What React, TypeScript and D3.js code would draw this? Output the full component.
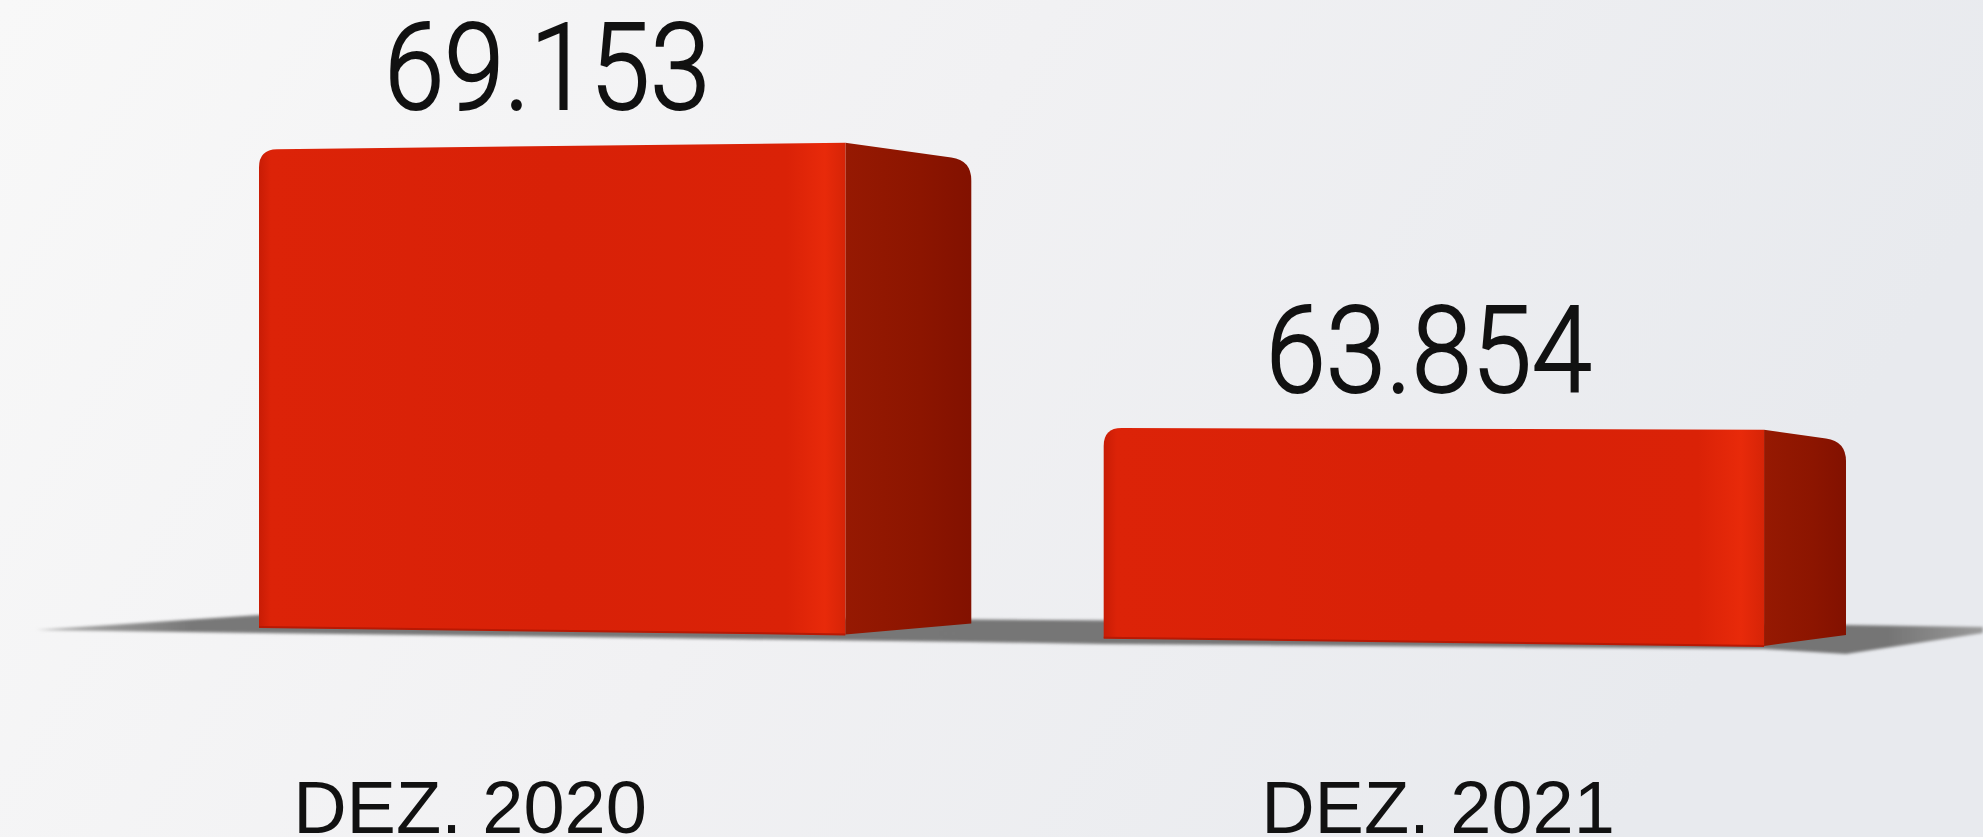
import React from "react";
import * as d3 from "d3";

const categories = ["DEZ. 2020", "DEZ. 2021"];
const values = [69153, 63854];
const valueLabels = ["69.153", "63.854"];

const W = 1983;
const H = 837;

export default function App() {
  // world band scale for bar slots (front + side)
  const xBand = d3.scaleBand<string>().domain(categories).range([259, 1846]).paddingInner(0.154);
  // slight perspective compression of the horizontal axis
  const warp = (x: number) => x - 2.4e-5 * (x - 259) * (1846 - x);
  // nominal height scale (truncated axis starting at 60.000)
  const hScale = d3.scaleLinear().domain([60000, 70000]).range([0, 521.8]);
  const persp = (x: number) => 1 + (x - 259) * 5e-5;
  const baseY = (x: number) => 627 + (x - 259) * 0.0126;
  const depthAt = (r: number) => 174.8 - 0.0503 * r;
  // category label positions
  const labelScale = d3.scalePoint<string>().domain(categories).range([470, 1438]);

  const bars = categories.map((c, i) => {
    const L = warp(xBand(c)!);
    const R = warp(xBand(c)! + xBand.bandwidth());
    const depth = depthAt(R);
    const xF = R - depth;
    const h = hScale(values[i]);
    const bL = baseY(L);
    const bR = baseY(xF);
    const tL = bL - h * persp(L);
    const tR = bR - h * persp(xF);
    const farTop = tR + depth * 0.14;
    const farBot = bR - 11;
    const r = 18;
    const slopeF = (tR - tL) / (xF - L);
    const front = `M${L},${bL} L${L},${tL + r} Q${L},${tL} ${L + r},${tL + slopeF * r} L${xF},${tR} L${xF},${bR} Z`;
    const slopeS = (farTop - tR) / depth;
    const rs = 20;
    const side = `M${xF},${tR} L${R - rs},${farTop - slopeS * rs} Q${R},${farTop} ${R},${farTop + rs} L${R},${farBot} L${xF},${bR} Z`;
    const cx = (L + xF) / 2;
    const topAtC = baseY(cx) - h * persp(cx);
    return { c, i, L, R, xF, front, side, cx, topAtC, bL, bR, farBot };
  });

  const shadowPts: [number, number][] = [
    [36, 630],
    [259, 615],
    [1846, 625],
    [1983, 627],
    [1983, 633],
    [1846, 654],
    [1764, 649],
    [1103, 644],
    [971, 642],
    [259, 633],
  ];
  const shadowPath = d3.line()(shadowPts) + "Z";

  return (
    <div style={{ position: "absolute", left: 0, top: 0 }}>
      <svg width={W} height={H} style={{ display: "block" }}>
        <defs>
          <linearGradient id="bg" x1="0" y1="0" x2="1" y2="0.25">
            <stop offset="0" stopColor="#f8f8f8" />
            <stop offset="0.5" stopColor="#f1f1f3" />
            <stop offset="1" stopColor="#e8eaee" />
          </linearGradient>
          <linearGradient id="front" x1="0" y1="0" x2="1" y2="0">
            <stop offset="0" stopColor="#c81c05" />
            <stop offset="0.02" stopColor="#dc2308" />
            <stop offset="0.5" stopColor="#d82107" />
            <stop offset="0.9" stopColor="#da2207" />
            <stop offset="0.965" stopColor="#e82a0a" />
            <stop offset="1" stopColor="#d62407" />
          </linearGradient>
          <linearGradient id="side" x1="0" y1="0" x2="1" y2="0">
            <stop offset="0" stopColor="#961902" />
            <stop offset="0.6" stopColor="#8c1500" />
            <stop offset="1" stopColor="#821100" />
          </linearGradient>
          <linearGradient id="shadow" x1="0" y1="0" x2="1" y2="0">
            <stop offset="0" stopColor="#b0b0b0" />
            <stop offset="0.08" stopColor="#787878" />
            <stop offset="0.95" stopColor="#747474" />
            <stop offset="1" stopColor="#9a9a9a" />
          </linearGradient>
          <filter id="blur" x="-5%" y="-50%" width="110%" height="200%">
            <feGaussianBlur stdDeviation="1.6" />
          </filter>
        </defs>
        <rect x={0} y={0} width={W} height={H} fill="url(#bg)" />
        <path d={shadowPath} fill="url(#shadow)" filter="url(#blur)" />
        {bars.map((b) => (
          <g key={b.c}>
            <path d={b.side} fill="url(#side)" />
            <path d={b.front} fill="url(#front)" />
            <line x1={b.L} y1={b.bL} x2={b.xF} y2={b.bR} stroke="#b81904" strokeWidth={2} />
            <text
              x={b.cx - 5}
              y={b.topAtC - 37}
              textAnchor="middle"
              fontFamily="Roboto, 'Noto Sans', sans-serif"
              fontWeight={300}
              fontSize={120}
              fill="#111"
              stroke="#111"
              strokeWidth={2}
              textLength={326}
              lengthAdjust="spacingAndGlyphs"
            >
              {valueLabels[b.i]}
            </text>
            <text
              x={labelScale(b.c)!}
              y={833}
              textAnchor="middle"
              fontFamily="'Liberation Sans', Arial, sans-serif"
              fontSize={74}
              fill="#111"
            >
              {b.c}
            </text>
          </g>
        ))}
      </svg>
    </div>
  );
}
